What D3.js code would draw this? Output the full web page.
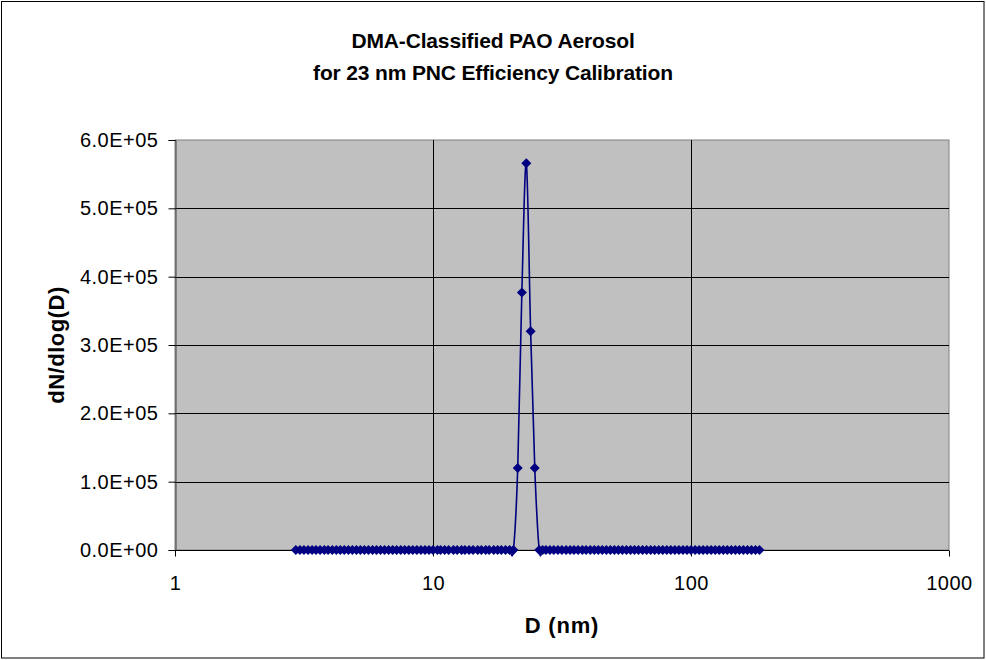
<!DOCTYPE html>
<html>
<head>
<meta charset="utf-8">
<script src="https://cdn.jsdelivr.net/npm/d3@7"></script>
<style>
  body { margin: 0; background: #fff; }
  text { font-family: "Liberation Sans", Arial, sans-serif; }
</style>
</head>
<body>
<svg id="chart"></svg>
<script>
// particle diameters (nm)
const diam = [
  2.94, 3.05, 3.16, 3.28, 3.40, 3.52, 3.65, 3.79, 3.92, 4.07,
  4.22, 4.37, 4.53, 4.70, 4.87, 5.05, 5.23, 5.42, 5.62, 5.83,
  6.04, 6.26, 6.49, 6.73, 6.98, 7.23, 7.50, 7.77, 8.06, 8.35,
  8.66, 8.98, 9.31, 9.65, 10.0, 10.4, 10.7, 11.1, 11.5, 12.0,
  12.4, 12.9, 13.3, 13.8, 14.3, 14.9, 15.4, 16.0, 16.5, 17.2,
  17.8, 18.4, 19.1, 19.8, 20.5, 21.3, 22.1, 23.0, 23.9, 24.8,
  25.8, 26.6, 27.4, 28.4, 29.4, 30.5, 31.6, 32.8, 34.0, 35.2,
  36.5, 37.9, 39.2, 40.7, 42.2, 43.7, 45.3, 47.0, 48.7, 50.5,
  52.3, 54.2, 56.2, 58.3, 60.4, 62.6, 64.9, 67.3, 69.8, 72.3,
  75.0, 77.7, 80.6, 83.5, 86.6, 89.8, 93.1, 96.5, 100, 103.7,
  107.5, 111.4, 115.5, 119.7, 124.1, 128.6, 133.4, 138.2, 143.3, 148.6,
  154.0, 159.6, 165.5, 171.5, 177.8, 184.3
];
// dN/dlog(D)
const conc = [
  0, 0, 0, 0, 0, 0, 0, 0, 0, 0,
  0, 0, 0, 0, 0, 0, 0, 0, 0, 0,
  0, 0, 0, 0, 0, 0, 0, 0, 0, 0,
  0, 0, 0, 0, 0, 0, 0, 0, 0, 0,
  0, 0, 0, 0, 0, 0, 0, 0, 0, 0,
  0, 0, 0, 0, 0, 120000, 377000, 566000, 320000, 120000,
  0, 0, 0, 0, 0, 0, 0, 0, 0, 0,
  0, 0, 0, 0, 0, 0, 0, 0, 0, 0,
  0, 0, 0, 0, 0, 0, 0, 0, 0, 0,
  0, 0, 0, 0, 0, 0, 0, 0, 0, 0,
  0, 0, 0, 0, 0, 0, 0, 0, 0, 0,
  0, 0, 0, 0, 0, 0
];
const xTicks = [1, 10, 100, 1000];
const yTicks = [0, 100000, 200000, 300000, 400000, 500000, 600000];
const titleLines = ['DMA-Classified PAO Aerosol', 'for 23 nm PNC Efficiency Calibration'];

const W = 986, H = 660;
const plot = { left: 175, top: 140, right: 949, bottom: 550 };
const navy = '#000080';

const svg = d3.select('#chart').attr('width', W).attr('height', H);

// outer chart frame
svg.append('rect')
  .attr('x', 1.5).attr('y', 1.5)
  .attr('width', W - 3.5).attr('height', H - 3.5)
  .attr('fill', '#fff').attr('stroke', '#000').attr('stroke-width', 1);

const x = d3.scaleLog().domain([1, 1000]).range([plot.left, plot.right]);
const y = d3.scaleLinear().domain([0, 600000]).range([plot.bottom, plot.top]);

// plot area
svg.append('rect')
  .attr('x', plot.left).attr('y', plot.top)
  .attr('width', plot.right - plot.left).attr('height', plot.bottom - plot.top)
  .attr('fill', '#c0c0c0').attr('stroke', '#808080').attr('stroke-width', 1);

// gridlines
svg.append('g').selectAll('line.h')
  .data(yTicks.filter(d => d > 0 && d < 600000))
  .join('line')
  .attr('x1', plot.left).attr('x2', plot.right)
  .attr('y1', d => Math.round(y(d)) + 0.5).attr('y2', d => Math.round(y(d)) + 0.5)
  .attr('stroke', '#000').attr('stroke-width', 1);
svg.append('g').selectAll('line.v')
  .data(xTicks.filter(d => d > 1 && d < 1000))
  .join('line')
  .attr('x1', d => Math.round(x(d)) + 0.5).attr('x2', d => Math.round(x(d)) + 0.5)
  .attr('y1', plot.top).attr('y2', plot.bottom)
  .attr('stroke', '#000').attr('stroke-width', 1);

// axes
const yAxis = d3.axisLeft(y).tickValues(yTicks).tickSize(7).tickPadding(10)
  .tickFormat(d => d3.format('.1e')(d).replace('e+', 'E+0'));
const xAxis = d3.axisBottom(x).tickValues(xTicks).tickSize(6).tickPadding(19)
  .tickFormat(d3.format('d'));

const gy = svg.append('g')
  .attr('transform', `translate(${plot.left + 0.5},0)`)
  .call(yAxis);
const gx = svg.append('g')
  .attr('transform', `translate(0,${plot.bottom + 0.5})`)
  .call(xAxis);

[gx, gy].forEach(g => {
  g.attr('font-size', null).attr('font-family', null);
  g.select('.domain').attr('stroke', '#000');
  g.selectAll('.tick line').attr('stroke', '#000');
  g.selectAll('.tick text').attr('fill', '#000')
    .style('font-size', '20px').style('letter-spacing', '0.5px');
});
gy.select('.domain').attr('stroke', '#404040');
gx.select('.domain').attr('d', `M${plot.left - 6},0H${plot.right}`);

// series
const pts = diam.map((d, i) => ({ d, v: conc[i] }));
svg.append('path')
  .datum(pts)
  .attr('fill', 'none')
  .attr('stroke', navy)
  .attr('stroke-width', 1.6)
  .attr('d', d3.line()
    .x(p => x(p.d))
    .y(p => y(p.v))
    .curve(d3.curveCardinal.tension(0)));

svg.append('g').selectAll('path')
  .data(pts)
  .join('path')
  .attr('transform', p => `translate(${x(p.d)},${y(p.v)})`)
  .attr('d', 'M0,-5L5,0L0,5L-5,0Z')
  .attr('fill', navy);

// titles
svg.append('text')
  .attr('x', 493).attr('y', 48)
  .attr('text-anchor', 'middle')
  .style('font-size', '21px').style('font-weight', 'bold')
  .style('letter-spacing', '-0.15px')
  .selectAll('tspan')
  .data(titleLines)
  .join('tspan')
  .attr('x', 493)
  .attr('dy', (d, i) => i === 0 ? 0 : 32)
  .text(d => d);

svg.append('text')
  .attr('x', (plot.left + plot.right) / 2).attr('y', 633)
  .attr('text-anchor', 'middle')
  .style('font-size', '22px').style('font-weight', 'bold')
  .style('letter-spacing', '0.8px')
  .text('D (nm)');

svg.append('text')
  .attr('transform', `translate(64,${(plot.top + plot.bottom) / 2}) rotate(-90)`)
  .attr('text-anchor', 'middle')
  .style('font-size', '22px').style('font-weight', 'bold')
  .style('letter-spacing', '0.5px')
  .text('dN/dlog(D)');
</script>
</body>
</html>
